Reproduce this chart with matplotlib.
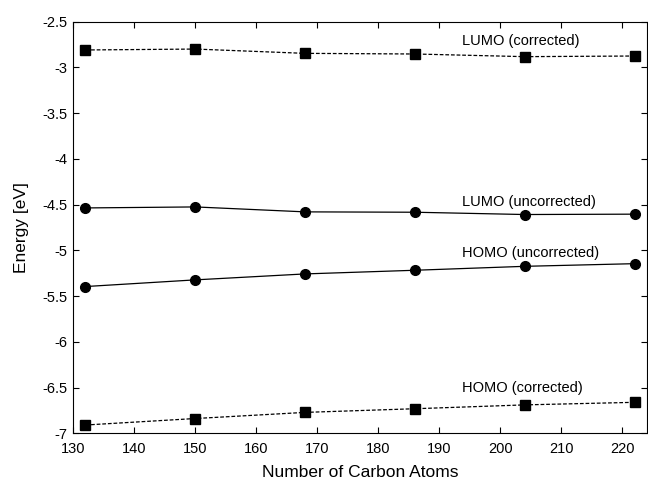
import matplotlib
matplotlib.use("Agg")
import matplotlib.pyplot as plt

plt.rcParams["font.family"] = ["Liberation Sans", "DejaVu Sans"]

n_carbon = [132, 150, 168, 186, 204, 222]

lumo_corr = [-2.81, -2.80, -2.847, -2.854, -2.883, -2.876]
lumo_unc = [-4.536, -4.525, -4.579, -4.583, -4.608, -4.604]
homo_unc = [-5.395, -5.322, -5.257, -5.217, -5.174, -5.145]
homo_corr = [-6.908, -6.837, -6.77, -6.73, -6.688, -6.66]

labels = ["LUMO (corrected)", "LUMO (uncorrected)",
          "HOMO (uncorrected)", "HOMO (corrected)"]
label_y = [-2.715, -4.47, -5.03, -6.5]

fig = plt.figure(figsize=(6.48, 4.8), dpi=100)
ax = fig.add_axes([0.113, 0.097, 0.885, 0.858])

ax.plot(n_carbon, lumo_corr, "k--", marker="s", ms=6.8, lw=0.9, dashes=(3, 1.5))
ax.plot(n_carbon, lumo_unc, "k-", marker="o", ms=7, lw=0.9)
ax.plot(n_carbon, homo_unc, "k-", marker="o", ms=7, lw=0.9)
ax.plot(n_carbon, homo_corr, "k--", marker="s", ms=6.8, lw=0.9, dashes=(3, 1.5))

for txt, y in zip(labels, label_y):
    ax.text(193.7, y, txt, fontsize=10.5, va="center", ha="left")

ax.set_xlim(130, 224)
ax.set_ylim(-7, -2.5)
ax.set_xticks(range(130, 221, 10))
ax.set_yticks([-7, -6.5, -6, -5.5, -5, -4.5, -4, -3.5, -3, -2.5])
ax.set_yticklabels(["-7", "-6.5", "-6", "-5.5", "-5", "-4.5", "-4", "-3.5", "-3", "-2.5"])
ax.tick_params(direction="in", top=True, right=True, labelsize=10.5, length=4)
ax.tick_params(axis="x", pad=6)
ax.tick_params(axis="y", pad=4)
ax.set_xlabel("Number of Carbon Atoms", fontsize=12.5, labelpad=7)
ax.set_ylabel("Energy [eV]", fontsize=12.5, labelpad=10)

fig.savefig("out.png")
